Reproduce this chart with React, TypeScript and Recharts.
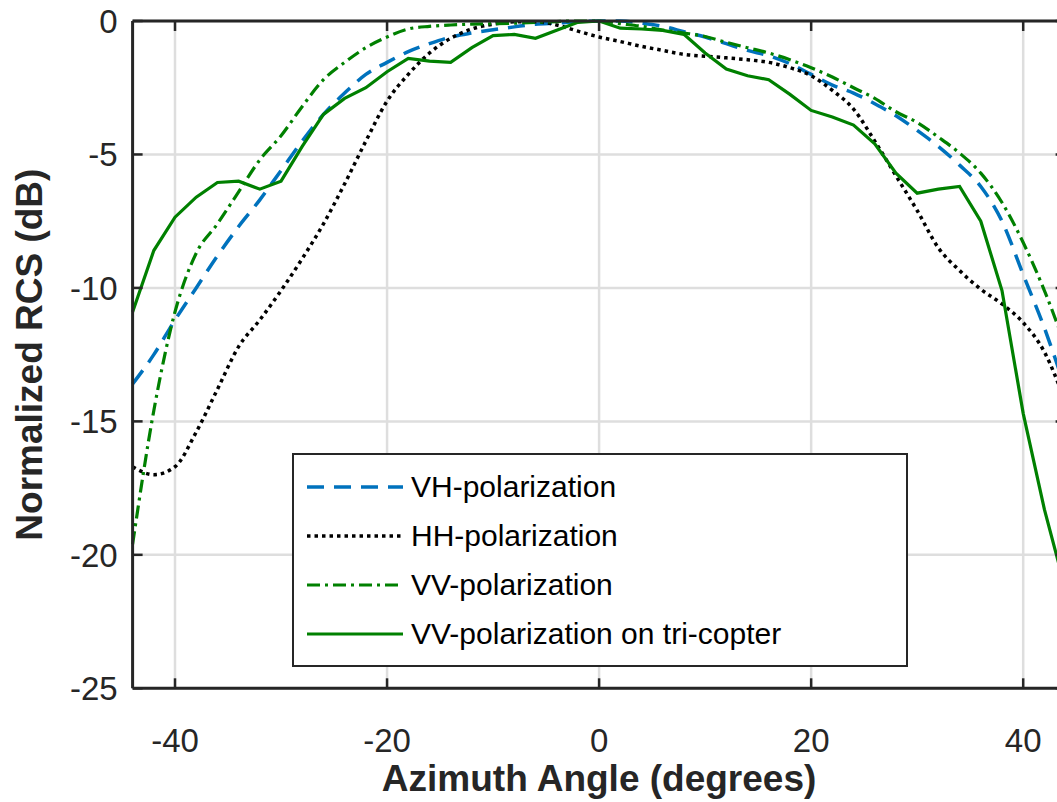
import React from 'react';
import { LineChart, Line, XAxis, YAxis, CartesianGrid, Legend, Label } from 'recharts';

const angles = [-44, -42, -40, -38, -36, -34, -32, -30, -28, -26, -24, -22, -20, -18, -16, -14, -12, -10, -8, -6, -4, -2, 0, 2, 4, 6, 8, 10, 12, 14, 16, 18, 20, 22, 24, 26, 28, 30, 32, 34, 36, 38, 40, 42, 44];
const vhPol = [-13.6, -12.5, -11.2, -10.0, -8.8, -7.7, -6.7, -5.6, -4.5, -3.5, -2.7, -2.0, -1.55, -1.15, -0.85, -0.6, -0.45, -0.33, -0.22, -0.12, -0.08, -0.03, 0, 0, -0.08, -0.2, -0.4, -0.6, -0.85, -1.1, -1.3, -1.6, -2.0, -2.4, -2.7, -3.1, -3.55, -4.1, -4.7, -5.4, -6.2, -7.5, -9.5, -11.5, -13.8];
const hhPol = [-16.7, -17.0, -16.7, -15.4, -13.8, -12.2, -11.2, -10.1, -8.9, -7.6, -6.1, -4.5, -3.0, -2.0, -1.2, -0.65, -0.3, -0.12, -0.03, -0.03, -0.15, -0.38, -0.6, -0.77, -0.95, -1.1, -1.25, -1.32, -1.38, -1.45, -1.55, -1.75, -2.05, -2.6, -3.3, -4.5, -5.8, -7.1, -8.5, -9.35, -10.05, -10.6, -11.3, -12.4, -14.3];
const vvPol = [-19.6, -14.6, -10.9, -8.7, -7.6, -6.4, -5.2, -4.3, -3.2, -2.2, -1.55, -1.0, -0.6, -0.3, -0.2, -0.15, -0.12, -0.1, -0.08, -0.05, -0.02, 0, 0, -0.1, -0.2, -0.34, -0.45, -0.58, -0.8, -1.0, -1.2, -1.45, -1.75, -2.1, -2.5, -2.9, -3.4, -3.8, -4.35, -4.95, -5.7, -6.8, -8.3, -10.1, -12.2];
const vvTriCopter = [-10.9, -8.6, -7.35, -6.6, -6.05, -6.0, -6.3, -6.0, -4.7, -3.5, -2.9, -2.5, -1.9, -1.4, -1.5, -1.55, -1.0, -0.55, -0.5, -0.65, -0.35, -0.05, 0, -0.27, -0.3, -0.35, -0.5, -1.2, -1.8, -2.05, -2.2, -2.75, -3.35, -3.6, -3.9, -4.6, -5.7, -6.45, -6.3, -6.2, -7.5, -10.1, -14.7, -18.3, -21.3];

const xTicks = [-40, -20, 0, 20, 40];
const yTicks = [-25, -20, -15, -10, -5, 0];
const seriesNames = ['VH-polarization', 'HH-polarization', 'VV-polarization', 'VV-polarization on tri-copter'];

const data = angles.map((a, i) => ({
  angle: a,
  vh: vhPol[i],
  hh: hhPol[i],
  vv: vvPol[i],
  tri: vvTriCopter[i],
}));

const FONT = '"Liberation Sans", Arial, Helvetica, sans-serif';
const AX = '#262626';
const BLUE = '#0072BD';
const GREEN = '#008000';
const TICK_LEN = 10;

const styles = [
  { key: 'vh', color: BLUE, dash: '17 10', width: 3.5, type: 'monotone' },
  { key: 'hh', color: '#000000', dash: '3.5 4', width: 3.5, type: 'monotone' },
  { key: 'vv', color: GREEN, dash: '13 5 3 5', width: 3.2, type: 'monotone' },
  { key: 'tri', color: GREEN, dash: undefined, width: 3.2, type: 'linear' },
];

const BottomTick = (props: any) => {
  const { x, y, payload } = props;
  return (
    <g>
      <line x1={x} x2={x} y1={y} y2={y - TICK_LEN} stroke={AX} strokeWidth={2.5} />
      <text x={x} y={y + 64} textAnchor="middle" fontSize={33} fill={AX} fontFamily={FONT}>
        {payload.value}
      </text>
    </g>
  );
};

const TopTick = (props: any) => {
  const { x, y } = props;
  return <line x1={x} x2={x} y1={y} y2={y + TICK_LEN} stroke={AX} strokeWidth={2.5} />;
};

const LeftTick = (props: any) => {
  const { x, y, payload } = props;
  return (
    <g>
      <line x1={x} x2={x + TICK_LEN} y1={y} y2={y} stroke={AX} strokeWidth={2.5} />
      <text x={x - 15} y={y} dy="0.36em" textAnchor="end" fontSize={33} fill={AX} fontFamily={FONT}>
        {payload.value}
      </text>
    </g>
  );
};

const RightTick = (props: any) => {
  const { x, y } = props;
  return <line x1={x} x2={x - TICK_LEN} y1={y} y2={y} stroke={AX} strokeWidth={2.5} />;
};

const XTitle = (props: any) => {
  const vb = props.viewBox || {};
  return (
    <text x={vb.x + vb.width / 2} y={vb.y + 103} textAnchor="middle" fontSize={37} fontWeight="bold" fill={AX} fontFamily={FONT}>
      Azimuth Angle (degrees)
    </text>
  );
};

const YTitle = (props: any) => {
  const vb = props.viewBox || {};
  const cx = vb.x + 42;
  const cy = vb.y + vb.height / 2;
  return (
    <text x={cx} y={cy} transform={`rotate(-90 ${cx} ${cy})`} textAnchor="middle" fontSize={37} fontWeight="bold" fill={AX} fontFamily={FONT}>
      Normalized RCS (dB)
    </text>
  );
};

const LegendBox = () => (
  <div
    style={{
      width: 616,
      height: 214,
      boxSizing: 'border-box',
      border: `2.5px solid ${AX}`,
      background: '#ffffff',
      position: 'relative',
    }}
  >
    {seriesNames.map((name, i) => (
      <div
        key={name}
        style={{
          position: 'absolute',
          left: 13,
          top: 32 + i * 49 - 20,
          height: 40,
          display: 'flex',
          alignItems: 'center',
          whiteSpace: 'nowrap',
        }}
      >
        <svg width={96} height={10} style={{ display: 'block' }}>
          <line
            x1={0}
            x2={96}
            y1={5}
            y2={5}
            stroke={styles[i].color}
            strokeWidth={styles[i].width}
            strokeDasharray={styles[i].dash}
          />
        </svg>
        <span style={{ marginLeft: 8, fontSize: 30, fontFamily: FONT, color: '#000', lineHeight: '40px' }}>{name}</span>
      </div>
    ))}
  </div>
);

export default function App() {
  return (
    <div style={{ width: 1057, height: 802, overflow: 'hidden', position: 'relative', background: '#fff' }}>
      <style>{'html,body{margin:0;padding:0;overflow:hidden;background:#fff}'}</style>
      <LineChart width={1080} height={802} data={data} margin={{ top: 20, right: 13.4, bottom: 0, left: 0 }}>
        <CartesianGrid stroke="#dedede" strokeWidth={2.5} />
        <XAxis
          dataKey="angle"
          type="number"
          domain={[-44, 44]}
          ticks={xTicks}
          xAxisId={0}
          height={113.7}
          tickSize={0}
          tickMargin={0}
          tickLine={false}
          axisLine={{ stroke: AX, strokeWidth: 3 }}
          tick={<BottomTick />}
          interval={0}
        >
          <Label content={<XTitle />} />
        </XAxis>
        <XAxis
          xAxisId="top"
          orientation="top"
          type="number"
          dataKey="angle"
          domain={[-44, 44]}
          ticks={xTicks}
          height={1}
          tickSize={0}
          tickMargin={0}
          tickLine={false}
          axisLine={{ stroke: AX, strokeWidth: 3 }}
          tick={<TopTick />}
          interval={0}
        />
        <YAxis
          yAxisId={0}
          type="number"
          domain={[-25, 0]}
          ticks={yTicks}
          width={132.6}
          tickSize={0}
          tickMargin={0}
          tickLine={false}
          axisLine={{ stroke: AX, strokeWidth: 3 }}
          tick={<LeftTick />}
          interval={0}
        >
          <Label content={<YTitle />} />
        </YAxis>
        <YAxis
          yAxisId="right"
          orientation="right"
          type="number"
          dataKey="vh"
          domain={[-25, 0]}
          ticks={yTicks}
          width={1}
          tickSize={0}
          tickMargin={0}
          tickLine={false}
          axisLine={{ stroke: AX, strokeWidth: 3 }}
          tick={<RightTick />}
          interval={0}
        />
        {styles.map((s, i) => (
          <Line
            key={s.key}
            dataKey={s.key}
            name={seriesNames[i]}
            type={s.type as any}
            stroke={s.color}
            strokeWidth={s.width}
            strokeDasharray={s.dash}
            dot={false}
            activeDot={false}
            isAnimationActive={false}
            xAxisId={0}
            yAxisId={0}
          />
        ))}
        <Legend
          layout="horizontal"
          verticalAlign="middle"
          align="center"
          content={<LegendBox />}
          wrapperStyle={{ left: 292, top: 453, width: 616, height: 214 }}
        />
      </LineChart>
    </div>
  );
}
